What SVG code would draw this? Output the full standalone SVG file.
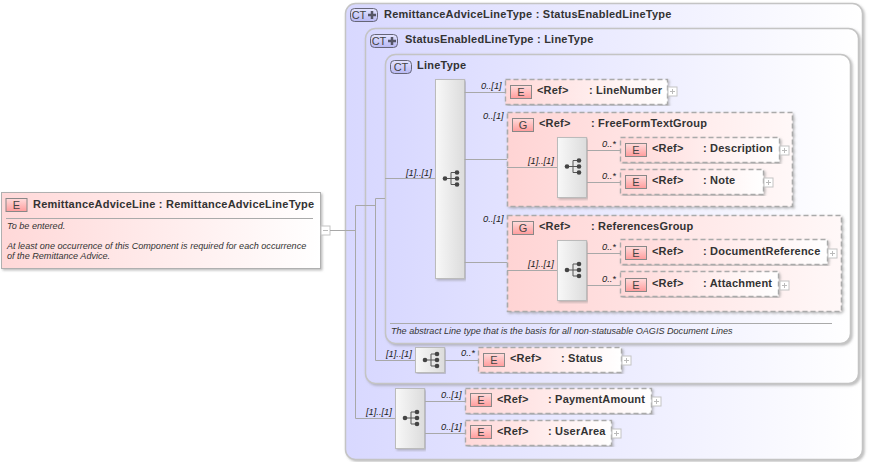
<svg xmlns="http://www.w3.org/2000/svg" width="871" height="462" viewBox="0 0 871 462">
<style>
text{font-family:"Liberation Sans",Arial,sans-serif;fill:#222}
.t{font-size:11px;font-weight:700;letter-spacing:.23px;fill:#333}
.r{font-size:11px;font-weight:700;letter-spacing:.2px;fill:#333}
.o{font-size:9.3px;font-style:italic;fill:#222}
.d{font-size:9.08px;font-style:italic;fill:#333}
.ic{font-size:11px;fill:#444;text-anchor:middle}
.ct{fill:url(#gc);stroke:#c4c4c4;stroke-width:1.5;filter:url(#sh)}
.el{fill:url(#ge);stroke:#aaa;stroke-width:1.4;stroke-dasharray:5 3;filter:url(#sh)}
.gr{fill:url(#gg);stroke:#aaa;stroke-width:1.6;stroke-dasharray:5 3;filter:url(#sh)}
.b{fill:url(#gb);stroke:#bbb;stroke-width:1;filter:url(#sh)}
.ib{fill:url(#gi);stroke:#888;stroke-width:1}
.cti{fill:url(#gt);stroke:#667;stroke-width:1}
.pm{fill:#fff;stroke:#c4c4c4;stroke-width:1}
.pl{stroke:#bbb;stroke-width:1;fill:none}
.c{fill:none;stroke:#a8a8a8;stroke-width:1}
.rule{stroke:#aaa;stroke-width:1}
</style>
<defs>
<linearGradient id="gc"><stop offset="0" stop-color="#d8d8ff"/><stop offset="1" stop-color="#fff"/></linearGradient>
<linearGradient id="ge"><stop offset="0" stop-color="#ffd8d8"/><stop offset="1" stop-color="#fff"/></linearGradient>
<linearGradient id="gg"><stop offset="0" stop-color="#ffd4d4"/><stop offset="1" stop-color="#fff8f8"/></linearGradient>
<linearGradient id="gb"><stop offset="0" stop-color="#f8f8f8"/><stop offset="1" stop-color="#dcdcdc"/></linearGradient>
<linearGradient id="gi" x2="0" y2="1"><stop offset="0" stop-color="#ffdcdc"/><stop offset="1" stop-color="#ff9c9c"/></linearGradient>
<linearGradient id="gt" x2="0" y2="1"><stop offset="0" stop-color="#e4e4ff"/><stop offset="1" stop-color="#b8b8f4"/></linearGradient>
<filter id="sh" x="-5%" y="-5%" width="110%" height="110%"><feDropShadow dx="1.5" dy="1.5" stdDeviation="1" flood-color="#888" flood-opacity=".55"/></filter>
<g id="seq"><path d="M-6 0H0M0 -6V6M0 -6H5M0 0H5M0 6H5" fill="none" stroke="#555" stroke-width="1"/><circle cx="-6" cy="0" r="2.300" fill="#444"/><circle cx="6" cy="-6" r="2.300" fill="#444"/><circle cx="6" cy="0" r="2.300" fill="#444"/><circle cx="6" cy="6" r="2.300" fill="#444"/></g>
<g id="pl"><rect class="pm" x="0" y="0" width="9" height="9"/><path class="pl" d="M2 4.500H7M4.500 2V7"/></g>
<g id="ei"><rect class="ib" x="0" y="0" width="21" height="13"/><text class="ic" x="10.500" y="10.500">E</text></g>
<g id="gi2"><rect class="ib" x="0" y="0" width="21" height="13"/><text class="ic" x="10.500" y="10.500">G</text></g>
</defs>

<g id="ct-remittance"><rect class="ct" x="345.500" y="3.500" width="517" height="456" rx="10"/>
<rect class="cti" x="350.500" y="8.500" width="27" height="13" rx="4"/><text class="ic" x="359" y="19">CT</text><path d="M368 15H376M372 11V19" stroke="#556" stroke-width="2.500"/>
<text class="t" x="384" y="18">RemittanceAdviceLineType : StatusEnabledLineType</text></g>
<g id="ct-status"><rect class="ct" x="365.500" y="28.500" width="493" height="355" rx="10"/>
<rect class="cti" x="370.500" y="34.500" width="27" height="13" rx="4"/><text class="ic" x="379" y="45">CT</text><path d="M388 41H396M392 37V45" stroke="#556" stroke-width="2.500"/>
<text class="t" x="405" y="43">StatusEnabledLineType : LineType</text></g>
<g id="ct-line"><rect class="ct" x="385.500" y="54.500" width="465" height="289" rx="10"/>
<rect class="cti" x="390.500" y="60.500" width="21" height="13" rx="4"/><text class="ic" x="401" y="71">CT</text>
<text class="t" x="417" y="69">LineType</text>
<line class="rule" x1="390" y1="323.500" x2="832" y2="323.500"/>
<text class="d" x="391" y="334">The abstract Line type that is the basis for all non-statusable OAGIS Document Lines</text></g>

<g id="root"><rect x="1.500" y="192.500" width="319" height="76" fill="url(#ge)" stroke="#b0b0b0" filter="url(#sh)"/>
<use href="#ei" x="6" y="198.500"/>
<text class="t" x="33" y="208">RemittanceAdviceLine : RemittanceAdviceLineType</text>
<line class="rule" x1="6" y1="218.500" x2="313" y2="218.500"/>
<text class="d" x="7" y="229">To be entered.</text>
<text class="d" x="7" y="249">At least one occurrence of this Component is required for each occurrence</text>
<text class="d" x="7" y="259">of the Remittance Advice.</text>
<rect class="pm" x="321" y="226" width="9" height="9"/><path class="pl" d="M323 230.500H328"/></g>

<g id="seq-line"><rect class="b" x="435.500" y="79.500" width="29" height="199"/><use href="#seq" x="451" y="178.500"/><text class="o" x="406" y="176">[1]..[1]</text></g>

<g id="line-number"><text class="o" x="481" y="89">0..[1]</text><rect class="el" x="505.500" y="79.500" width="162" height="25"/><use href="#ei" x="510.500" y="85.500"/><text class="r" x="537" y="94">&lt;Ref&gt;</text><text class="r" x="589" y="94">: LineNumber</text><use href="#pl" x="668" y="87"/></g>

<g id="freeform"><text class="o" x="483" y="119">0..[1]</text><rect class="gr" x="507.500" y="112.500" width="285" height="94"/><use href="#gi2" x="512.500" y="118.500"/><text class="r" x="539" y="127">&lt;Ref&gt;</text><text class="r" x="591" y="127">: FreeFormTextGroup</text>
<rect class="b" x="557.500" y="137.500" width="29" height="60"/><use href="#seq" x="573" y="166.500"/><text class="o" x="528" y="164">[1]..[1]</text></g>
<g id="description"><text class="o" x="602" y="147">0..*</text><rect class="el" x="620.500" y="137.500" width="159" height="25"/><use href="#ei" x="625.500" y="143.500"/><text class="r" x="652" y="152">&lt;Ref&gt;</text><text class="r" x="703" y="152">: Description</text><use href="#pl" x="780" y="146"/></g>
<g id="note"><text class="o" x="602" y="179">0..*</text><rect class="el" x="620.500" y="169.500" width="143" height="25"/><use href="#ei" x="625.500" y="175.500"/><text class="r" x="652" y="184">&lt;Ref&gt;</text><text class="r" x="703" y="184">: Note</text><use href="#pl" x="764" y="178"/></g>

<g id="references"><text class="o" x="483" y="222">0..[1]</text><rect class="gr" x="507.500" y="215.500" width="334" height="96"/><use href="#gi2" x="512.500" y="221.500"/><text class="r" x="539" y="230">&lt;Ref&gt;</text><text class="r" x="591" y="230">: ReferencesGroup</text>
<rect class="b" x="557.500" y="240.500" width="29" height="60"/><use href="#seq" x="573" y="270"/><text class="o" x="528" y="267">[1]..[1]</text></g>
<g id="docref"><text class="o" x="602" y="250">0..*</text><rect class="el" x="620.500" y="239.500" width="207" height="25"/><use href="#ei" x="625.500" y="246.500"/><text class="r" x="652" y="255">&lt;Ref&gt;</text><text class="r" x="703" y="255">: DocumentReference</text><use href="#pl" x="828" y="249"/></g>
<g id="attachment"><text class="o" x="602" y="282">0..*</text><rect class="el" x="620.500" y="271.500" width="158" height="25"/><use href="#ei" x="625.500" y="278.500"/><text class="r" x="652" y="287">&lt;Ref&gt;</text><text class="r" x="703" y="287">: Attachment</text><use href="#pl" x="780" y="281"/></g>

<g id="seq-status"><text class="o" x="386" y="357">[1]..[1]</text><rect class="b" x="415.500" y="347.500" width="29" height="25"/><use href="#seq" x="431" y="360"/></g>
<g id="status"><text class="o" x="461" y="356">0..*</text><rect class="el" x="478.500" y="347.500" width="143" height="25"/><use href="#ei" x="483.500" y="353.500"/><text class="r" x="510" y="362">&lt;Ref&gt;</text><text class="r" x="561" y="362">: Status</text><use href="#pl" x="622" y="356"/></g>

<g id="seq-bottom"><text class="o" x="366" y="415">[1]..[1]</text><rect class="b" x="395.500" y="388.500" width="29" height="60"/><use href="#seq" x="411" y="418"/></g>
<g id="payment"><text class="o" x="441" y="398">0..[1]</text><rect class="el" x="465.500" y="388.500" width="186" height="25"/><use href="#ei" x="470.500" y="393.500"/><text class="r" x="497" y="403">&lt;Ref&gt;</text><text class="r" x="548" y="403">: PaymentAmount</text><use href="#pl" x="652" y="397"/></g>
<g id="userarea"><text class="o" x="441" y="430">0..[1]</text><rect class="el" x="465.500" y="420.500" width="146" height="25"/><use href="#ei" x="470.500" y="425.500"/><text class="r" x="497" y="435">&lt;Ref&gt;</text><text class="r" x="548" y="435">: UserArea</text><use href="#pl" x="612" y="429"/></g>

<g id="connectors">
<path class="c" d="M330 230.500H355.500M355.500 205.500V418.500H395M355.500 205.500H375.500M375.500 198.500V360.500H415M375.500 198.500H385M385 178.500H435"/>
<path class="c" d="M464.500 92.500H505M464.500 159.500H507M464.500 262.500H507M507 167.500H557M507 270.500H557M587 150.500H620M587 182.500H620M587 253.500H620M587 285.500H620M445 360.500H478M425 401.500H465M425 433.500H465"/>
</g>
</svg>
